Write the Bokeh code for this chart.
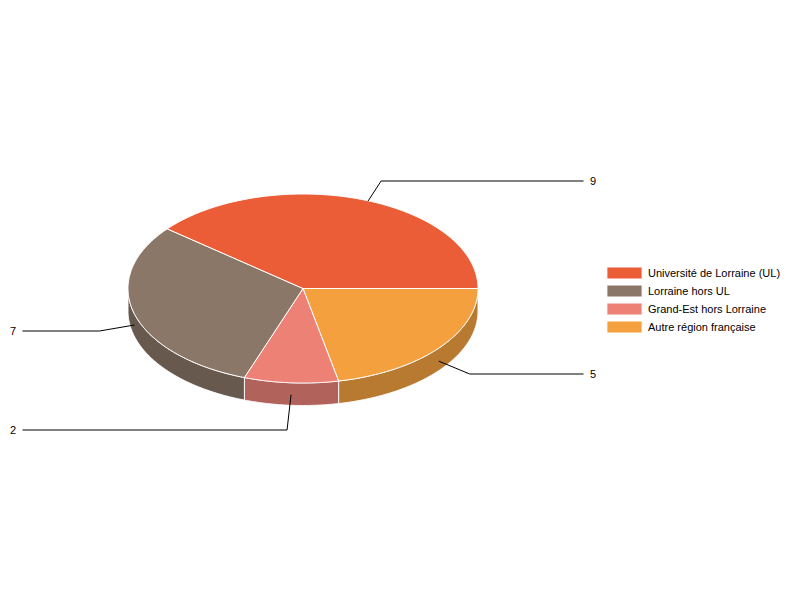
import numpy as np
from bokeh.plotting import figure
from bokeh.models import Range1d, Legend, LegendItem
from bokeh.core.properties import value
from bokeh.embed import file_html
from bokeh.resources import INLINE

# Data, in the legend's order
categories = ["Université de Lorraine (UL)", "Lorraine hors UL", "Grand-Est hors Lorraine", "Autre région française"]
counts = [9, 7, 2, 5]
top_colors = ["#EA5D37", "#8A7768", "#EE8175", "#F5A03F"]
side_colors = ["#A4412A", "#67594E", "#B1625A", "#B77A30"]

# Layout of the tilted pie (picture pixels)
CX, CY, RX, RY, DEPTH = 302.5, 288, 175, 94.5, 22.5
FONT = "Liberation Sans"

# The pie runs clockwise on screen from east: last category first
order = [3, 2, 1, 0]
total = sum(counts)
start = 0.0
spans = {}
for i in order:
    sweep = 2 * np.pi * counts[i] / total
    spans[i] = (start, start + sweep)
    start += sweep


def ell(a, dy=0.0):
    return CX + RX * np.cos(a), CY + RY * np.sin(a) + dy


p = figure(width=784, height=584, output_backend="svg", toolbar_location=None,
           x_range=Range1d(0, 784), y_range=Range1d(584, 0),
           min_border=0, outline_line_color=None)
p.axis.visible = False
p.grid.visible = False
p.background_fill_color = "white"
p.border_fill_color = "white"

# Side walls: only the front half of the rim is visible
for i in order:
    a0, a1 = spans[i]
    a1 = min(a1, np.pi)
    if a1 <= a0:
        continue
    t = np.linspace(a0, a1, 80)
    x, y = ell(t)
    xb, yb = ell(t[::-1], DEPTH)
    p.patch(list(x) + list(xb), list(y) + list(yb), fill_color=side_colors[i],
            line_color="white", line_width=1, line_alpha=0.9)

# Top sectors
tops = {}
for i in order:
    a0, a1 = spans[i]
    t = np.linspace(a0, a1, 160)
    x, y = ell(t)
    tops[i] = p.patch([CX] + list(x), [CY] + list(y), fill_color=top_colors[i],
                      line_color="white", line_width=1, line_join="round")

# Leader lines: anchor follows the slice's middle, then elbow, then the label
# (anchor dx, anchor dy, elbow dx from anchor, elbow/label y, end x, label x)
leaders = {
    0: (6.5, 1.5, 13, 180.5, 583, 589.5),
    1: (0, 11, -35, 330.5, 22, 9.5),
    2: (0, 12, -4, 429.5, 22, 9.5),
    3: (0, 13, 31, 373.5, 583, 589.5),
}
for i, (dx, dy, ex, ly, endx, labx) in leaders.items():
    a0, a1 = spans[i]
    ax, ay = ell((a0 + a1) / 2, dy)
    ax += dx
    p.line([ax, ax + ex, endx], [ay, ly, ly], line_color="black", line_width=1)
    p.text([labx], [ly - 0.5], text=[str(counts[i])], text_font=value(FONT), text_font_size="11px",
           text_color="black", text_baseline="middle", text_align="left")

legend = Legend(items=[LegendItem(label=categories[i], renderers=[tops[i]]) for i in range(4)],
                location=(602, 250), orientation="vertical",
                glyph_width=44, glyph_height=15, label_height=15, spacing=3,
                label_standoff=2, padding=0, margin=0,
                border_line_color=None, background_fill_alpha=0,
                label_text_font=FONT, label_text_font_size="11px", label_text_color="black")
p.add_layout(legend)

open("out.html", "w").write(file_html(p, INLINE))
